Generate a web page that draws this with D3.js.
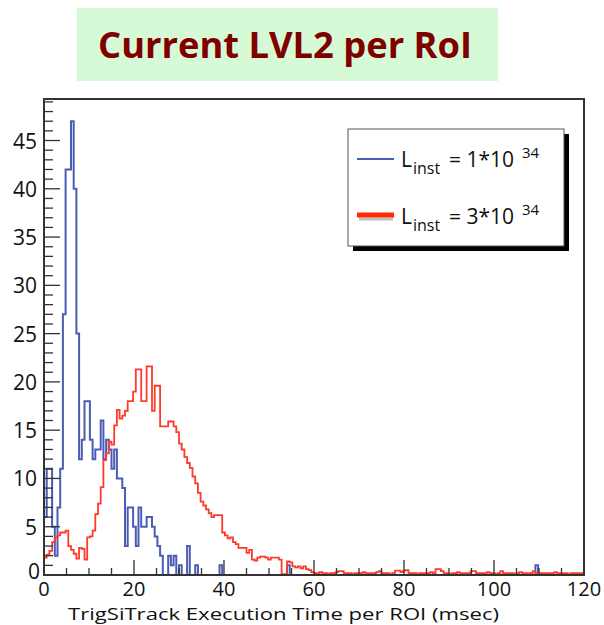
<!DOCTYPE html>
<html>
<head>
<meta charset="utf-8">
<script src="https://cdn.jsdelivr.net/npm/d3@7"></script>
<style>
  body { margin: 0; background: #fff; }
  text { font-family: "Open Sans", "DejaVu Sans", sans-serif; }
</style>
</head>
<body>
<div id="chart"></div>
<script>
/* Global data */
var binWidth = 0.6; // msec per bin, 200 bins over 0-120

// Lumi 1e34 (blue)
var lowLumi = [
  6,11,11,5,2,7,11,27,42,42,
  47,40,25,12,14,18,18,14,12,13,
  13,16,12,14,13,11,13,10,10,9,
  3,7,7,5,3,7,5,5,6,6,
  5,4,3,2,0,0,2,1,2,0,
  1,0,0,3,0,0,1,0,0,0,
  0,0,0,0,0,1,0,0,0,0,
  0,0,0,0,0,0,0,0,0,0,
  0,0,0,0,0,0,0,0,0,0,
  1,0,0,0,0,0,0,0,0,0,
  0,0,0,0,0,0,0,0,0,0,
  0,0,0,0,0,0,0,0,0,0,
  0,0,0,0,0,0,0,0,0,0,
  0,0,0,0,0,0,0,0,0,0,
  0,0,0,0,0,0,0,0,0,0,
  0,0,0,0,0,0,0,0,0,0,
  0,0,0,0,0,0,0,0,0,0,
  0,0,0,0,0,0,0,0,0,0,
  0,0,1,0,0,0,0,0,0,0,
  0,0,0,0,0,0,0,0,0,0
];

// Lumi 3e34 (red)
var highLumi = [
  1.8,2.1,2.5,3.4,3.9,4.1,4.4,4.4,4.6,3.0,
  2.6,2.2,1.7,2.8,2.7,1.6,3.9,4.0,4.6,6.3,
  7.4,9.1,11.9,12.6,13.8,13.5,15.5,17.1,16.2,16.5,
  17.0,18.0,18.0,19.0,21.3,21.3,18.0,18.0,21.6,21.6,
  17.0,19.6,19.6,15.4,15.4,15.4,15.9,15.9,15.4,14.8,
  13.6,13.0,12.2,11.6,11.1,10.2,9.5,8.5,7.6,7.2,
  6.8,6.4,6.0,6.2,6.2,6.2,4.4,4.1,3.8,3.9,
  3.4,3.2,2.8,2.8,2.8,2.3,2.6,1.6,1.5,1.8,
  1.9,1.9,1.8,1.6,1.8,1.8,1.8,1.6,0.1,0.1,
  1.4,1.3,0.9,0.8,0.9,0.7,0.9,0.6,0.5,0.3,
  0.2,0.2,0.3,0.2,0.2,0.1,0.2,0.2,0.3,0.4,
  0.4,0.2,0.2,0.2,0.1,0.2,0.2,0.2,0.3,0.2,
  0.2,0.2,0.2,0.3,0.4,0.2,0.2,0.2,0.1,0.2,
  0.45,0.45,0.3,0.45,0.5,0.2,0.2,0.2,0.1,0.2,
  0.2,0.2,0.2,0.3,0.2,0.6,0.6,0.4,0.2,0.2,
  0.1,0.2,0.2,0.3,0.2,0.2,0.2,0.2,0.4,0.4,
  0.2,0.2,0.2,0.2,0.3,0.2,0.2,0.1,0.2,0.4,
  0.2,0.2,0.2,0.2,0.1,0.2,0.3,0.2,0.2,0.2,
  0.2,0.4,0.2,0.2,0.2,0.2,0.2,0.2,0.2,0.3,
  0.2,0.2,0.2,0.2,0.1,0.2,0.2,0.2,0.2,0.2
];

var xTicks = [0, 20, 40, 60, 80, 100, 120];
var yTicks = [0, 5, 10, 15, 20, 25, 30, 35, 40, 45];
var legendValues = ["1", "3"];
var titleText = "Current LVL2 per RoI";
var xTitle = "TrigSiTrack Execution Time per ROI (msec)";

var W = 604, H = 625;
var frame = {left: 44, right: 584, top: 99, bottom: 575};
var blueColor = "#4a5cb6";
var redColor = "#ff3a2a";

var svg = d3.select("#chart").append("svg")
    .attr("width", W).attr("height", H);

var x = d3.scaleLinear().domain([0, 120]).range([frame.left, frame.right]);
var y = d3.scaleLinear().domain([0, 49.3]).range([frame.bottom, frame.top]);

/* title box */
svg.append("rect")
    .attr("x", 77).attr("y", 8)
    .attr("width", 421).attr("height", 73)
    .style("fill", "#d5fad5");
svg.append("text")
    .attr("x", 98).attr("y", 58)
    .attr("textLength", 374)
    .attr("lengthAdjust", "spacingAndGlyphs")
    .style("font-weight", "bold")
    .style("font-size", "35px")
    .style("fill", "#800000")
    .text(titleText);

/* histograms as step lines */
function histPath(values){
    var pts = [[0, 0]];
    values.forEach(function(v, i){ pts.push([i*binWidth, v]); });
    pts.push([values.length*binWidth, values[values.length-1]]);
    pts.push([values.length*binWidth, 0]);
    return d3.line()
        .x(function(d){ return x(d[0]); })
        .y(function(d){ return y(d[1]); })
        .curve(d3.curveStepAfter)(pts);
}

svg.append("path")
    .attr("d", histPath(lowLumi))
    .style("fill", "none")
    .style("stroke", blueColor)
    .style("stroke-width", 2);

svg.append("path")
    .attr("d", histPath(highLumi))
    .style("fill", "none")
    .style("stroke", redColor)
    .style("stroke-width", 1.8);

/* axes: ROOT style, ticks pointing inward */
var yAxis = svg.append("g");
var yMinor = d3.range(0, 50, 1);
yAxis.selectAll("line.minor")
    .data(yMinor)
    .enter()
    .append("line")
    .attr("x1", frame.left)
    .attr("x2", function(d){ return frame.left + (d % 5 == 0 ? 16 : 9); })
    .attr("y1", function(d){ return y(d); })
    .attr("y2", function(d){ return y(d); })
    .style("stroke", "#333")
    .style("stroke-width", 1.3);
yAxis.selectAll("text")
    .data(yTicks)
    .enter()
    .append("text")
    .attr("x", function(d){ return d == 0 ? 40 : 37; })
    .attr("y", function(d){ return y(d) + (d == 0 ? 4 : 8); })
    .attr("text-anchor", "end")
    .style("font-size", "21px")
    .style("fill", "#111")
    .text(function(d){ return d; });

var xAxis = svg.append("g");
var xMinor = d3.range(0, 121, 5);
xAxis.selectAll("line")
    .data(xMinor)
    .enter()
    .append("line")
    .attr("x1", function(d){ return x(d); })
    .attr("x2", function(d){ return x(d); })
    .attr("y1", frame.bottom)
    .attr("y2", function(d){ return frame.bottom - (d % 20 == 0 ? 15 : 7); })
    .style("stroke", "#333")
    .style("stroke-width", 1.3);
xAxis.selectAll("text")
    .data(xTicks)
    .enter()
    .append("text")
    .attr("x", function(d){ return x(d); })
    .attr("y", 595.5)
    .attr("text-anchor", "middle")
    .style("font-size", "20px")
    .style("fill", "#111")
    .text(function(d){ return d; });

svg.append("text")
    .attr("x", 68).attr("y", 619.5)
    .attr("textLength", 431)
    .attr("lengthAdjust", "spacingAndGlyphs")
    .style("font-size", "17px")
    .style("fill", "#111")
    .text(xTitle);

/* frame */
svg.append("rect")
    .attr("x", frame.left).attr("y", frame.top)
    .attr("width", frame.right - frame.left)
    .attr("height", frame.bottom - frame.top)
    .style("fill", "none")
    .style("stroke", "#333")
    .style("stroke-width", 2);

/* legend */
var leg = svg.append("g");
leg.append("rect")
    .attr("x", 353).attr("y", 134)
    .attr("width", 216).attr("height", 117)
    .style("fill", "#000");
leg.append("rect")
    .attr("x", 348).attr("y", 129)
    .attr("width", 216).attr("height", 117)
    .style("fill", "#fff")
    .style("stroke", "#555")
    .style("stroke-width", 1);

var legRows = [
    {value: legendValues[0], color: blueColor, width: 2, ly: 159, ty: 167},
    {value: legendValues[1], color: "#ff2a00", width: 5, ly: 215, ty: 224}
];
legRows.forEach(function(r, i){
    if (i == 1){
        leg.append("line")
            .attr("x1", 359).attr("x2", 393)
            .attr("y1", r.ly + 4).attr("y2", r.ly + 4)
            .style("stroke", "#999")
            .style("stroke-width", 3)
            .style("opacity", 0.6);
    }
    leg.append("line")
        .attr("x1", 357).attr("x2", 394)
        .attr("y1", r.ly).attr("y2", r.ly)
        .style("stroke", r.color)
        .style("stroke-width", r.width);
    var g = leg.append("g").style("fill", "#111");
    g.append("text").attr("x", 401).attr("y", r.ty)
        .style("font-size", "21px").text("L");
    g.append("text").attr("x", 413).attr("y", r.ty + 7)
        .style("font-size", "16px").text("inst");
    g.append("text").attr("x", 449).attr("y", r.ty)
        .style("font-size", "21px").text("= " + r.value + "*10");
    g.append("text").attr("x", 522).attr("y", r.ty - 9)
        .style("font-size", "15px").text("34");
});
</script>
</body>
</html>
